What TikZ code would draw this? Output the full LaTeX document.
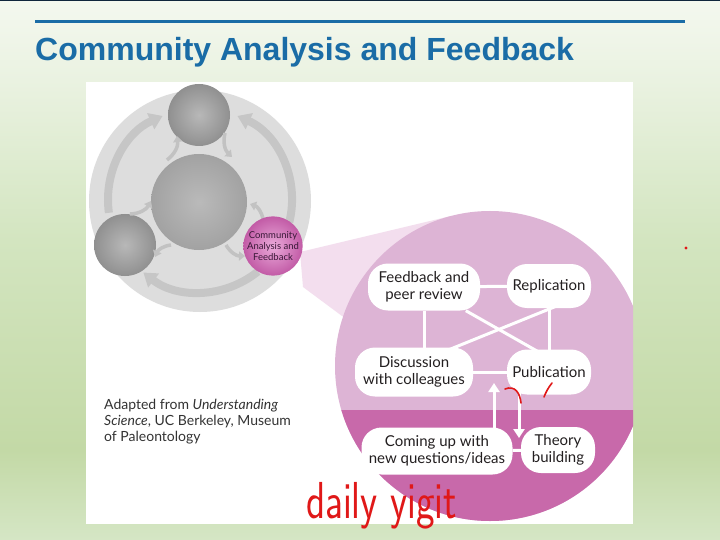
\documentclass[tikz,border=0pt]{standalone}
\usepackage{fontspec}
\usepackage{graphicx}
\setmainfont{Lato}
\newfontfamily\titlefont{Liberation Sans}
\usetikzlibrary{arrows.meta,calc}
\pgfdeclarelayer{front}
\pgfsetlayers{main,front}
\definecolor{bgA}{HTML}{F4F8EF}
\definecolor{bgB}{HTML}{EAF2E1}
\definecolor{bgC}{HTML}{D3E5C0}
\definecolor{bgD}{HTML}{C3D9A6}
\definecolor{bgE}{HTML}{D5E6C5}
\definecolor{navy}{HTML}{10263C}
\definecolor{titleblue}{HTML}{1A6CA6}
\definecolor{discgrey}{HTML}{DDDDDD}
\definecolor{ringgrey}{HTML}{C6C6C6}
\definecolor{arrgrey}{HTML}{C2C2C2}
\definecolor{ballin}{HTML}{B8B8B8}
\definecolor{ballout}{HTML}{909090}
\definecolor{bigin}{HTML}{BABABA}
\definecolor{bigout}{HTML}{A2A2A2}
\definecolor{cpinkin}{HTML}{EAAADA}
\definecolor{cpinkout}{HTML}{C25BA6}
\definecolor{ctext}{HTML}{3A1838}
\definecolor{wedgepink}{HTML}{F3DEEE}
\definecolor{upperpink}{HTML}{DDB4D5}
\definecolor{lowerpink}{HTML}{C869AA}
\definecolor{nodetext}{HTML}{231F20}
\definecolor{credittext}{HTML}{333333}
\definecolor{redink}{HTML}{E01818}
\pgfdeclareverticalshading{bgshade}{100bp}{color(0bp)=(bgE); color(25bp)=(bgE); color(33.3bp)=(bgD); color(52.8bp)=(bgC); color(67.6bp)=(bgB); color(75bp)=(bgA); color(100bp)=(bgA)}
\begin{document}
\begin{tikzpicture}[x=1pt,y=-1pt,
  box/.style={fill=white, rounded corners=20pt, align=center, font=\fontsize{15}{17}\selectfont, text=nodetext, inner sep=0pt},
  wline/.style={draw=white, line width=3pt},
  warr/.style={draw=white, line width=3pt, -{Triangle[width=11pt,length=9pt]}},
  ringarr/.style={draw=ringgrey, line width=8pt, -{Triangle[width=17pt,length=13pt]}},
  sarr/.style={draw=arrgrey, line width=3.5pt, -{Triangle[width=9pt,length=6pt]}},
  doodle/.style={draw=redink, line width=1.6pt, line cap=round},
  ball/.style={circle, inner sep=0pt, inner color=ballin, outer color=ballout}
]
\useasboundingbox (0,0) rectangle (720,540);
% background
\shade[shading=bgshade] (0,0) rectangle (720,540);
\fill[navy] (0,0) rectangle (720,1.5);
\fill[white] (86,82) rectangle (633,524);
\draw[titleblue, line width=3pt] (35,22) -- (685,22);
\node[anchor=base west, inner sep=0pt, font=\titlefont\bfseries\fontsize{32}{32}\selectfont, text=titleblue] (title) at (35,61) {Community Analysis and Feedback};
% grey diagram
\fill[discgrey] (200,201) circle[radius=111];
\draw[ringarr] (200,200) ++(172:92) arc[start angle=172, end angle=246, radius=92];
\draw[ringarr] (200,200) ++(14:92) arc[start angle=14, end angle=-66, radius=92];
\draw[ringarr] (200,200) ++(51:92) arc[start angle=51, end angle=128, radius=92];
\node[ball, minimum size=62pt] (explore) at (199,115) {};
\node[ball, minimum size=62pt] (benefit) at (125,245) {};
\node[circle, inner sep=0pt, inner color=bigin, outer color=bigout, minimum size=96pt] (test) at (199,202) {};
\draw[sarr] (167,160) to[bend right=30] (177,136);
\draw[sarr] (225,133) to[bend right=30] (232,157);
\draw[sarr] (130,214) to[bend right=30] (151,201);
\draw[sarr] (171,245) to[bend right=30] (155,257);
\draw[sarr] (263,219) to[bend right=30] (250,204);
\draw[sarr] (226,245) to[bend right=30] (245,256);
% zoom callout
\begin{scope}
  \clip (86,82) rectangle (633,524);
  \fill[wedgepink] (300,252) -- (451,216) -- (490,366) -- (342,316) -- (303,287) -- cycle;
  \fill[upperpink] (490,366) circle[radius=155];
  \begin{scope}
    \clip (490,366) circle[radius=155];
    \fill[lowerpink] (300,410) rectangle (700,540);
  \end{scope}
\end{scope}
\node[circle, inner sep=0pt, minimum size=57pt, inner color=cpinkin, outer color=cpinkout, align=center, font=\fontsize{9.5}{11}\selectfont, text=ctext] (cmty) at (273,246) {Community\\Analysis and\\Feedback};
% nodes
\begin{pgfonlayer}{front}
\node[box, minimum width=112pt, minimum height=47pt] (fb) at (424,287) {Feedback and\\peer review};
\node[box, minimum width=84pt, minimum height=44pt] (rep) at (549,286) {Replication};
\node[box, minimum width=118pt, minimum height=49pt] (disc) at (414,372) {Discussion\\with colleagues};
\node[box, minimum width=84pt, minimum height=45pt] (pub) at (549,372) {Publication};
\node[box, minimum width=151pt, minimum height=47pt] (come) at (437,451) {Coming up with\\new questions/ideas};
\node[box, minimum width=74pt, minimum height=46pt] (theory) at (558,450) {Theory\\building};
\end{pgfonlayer}
% connectors
\draw[wline] (fb) -- (rep);
\draw[wline] (fb) -- (fb |- disc);
\draw[wline] (rep) -- (rep |- pub);
\draw[wline] (fb) -- ($(pub)+(25,0)$);
\draw[wline] ($(rep)+(20,15)$) -- ($(disc)+(-20,0)$);
\draw[wline] (disc) -- (pub);
\draw[wline] (come) -- (theory);
\coordinate (uptip) at (494,383);
\coordinate (dntip) at (519,438);
\draw[warr] (come.center -| uptip) -- (uptip);
\draw[warr] (pub.center -| dntip) -- (dntip);
% credit
\node[anchor=north west, inner sep=0pt, align=left, font=\fontsize{14}{16}\selectfont, text=credittext] (credit) at (104,399) {Adapted from \textit{Understanding}\\\textit{Science}, UC Berkeley, Museum\\of Paleontology};
% red handwriting
\begin{pgfonlayer}{front}
\draw[doodle] (505,389) .. controls (515,385) and (520,393) .. (521,403);
\draw[doodle] (552,383) .. controls (548,388) and (546,392) .. (544,397);
\node[anchor=base west, inner sep=0pt, font=\sffamily\fontsize{52}{52}\selectfont, text=redink] (sig) at (306,518) {\scalebox{0.76}[1]{daily yigit}};
\fill[redink] (686,248) circle[radius=1.6];
\end{pgfonlayer}
\end{tikzpicture}
\end{document}
